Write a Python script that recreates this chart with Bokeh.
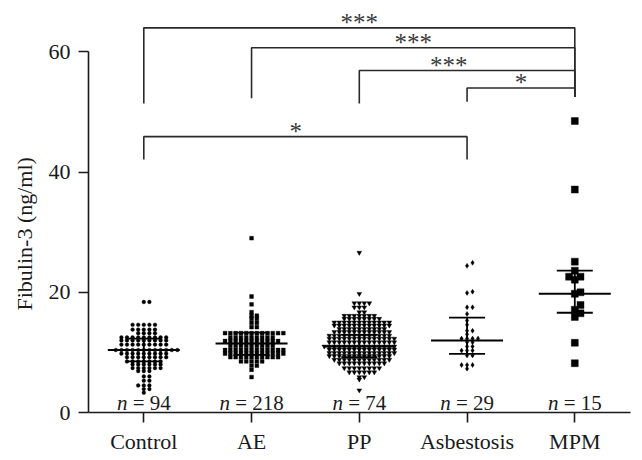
from bokeh.plotting import figure
from bokeh.models import ColumnDataSource, FixedTicker, Range1d, Title
from bokeh.embed import file_html
from bokeh.resources import INLINE
from bokeh.core.properties import value

# ---------------- data ----------------
categories = ["Control", "AE", "PP", "Asbestosis", "MPM"]
n_numbers = ["94", "218", "74", "29", "15"]
y_title = "Fibulin-3 (ng/ml)"

control = [
    18.4, 18.4,
    14.6, 14.6, 14.6, 14.6, 14.6,
    13.8, 13.8, 13.8, 13.8, 13.8,
    13.2, 13.2, 13.2, 13.2,
    12.5, 12.5, 12.5, 12.5, 12.5, 12.5, 12.5, 12.5, 12.5,
    12.0, 12.0, 12.0, 12.0, 12.0, 12.0, 12.0, 12.0, 12.0,
    11.3, 11.3, 11.3, 11.3, 11.3, 11.3, 11.3, 11.3, 11.3,
    10.4, 10.4, 10.4, 10.4, 10.4, 10.4, 10.4, 10.4, 10.4, 10.4, 10.4, 10.4,
    9.8, 9.8, 9.8, 9.8, 9.8, 9.8, 9.8, 9.8, 9.8,
    9.2, 9.2, 9.2, 9.2, 9.2, 9.2, 9.2, 9.2,
    8.5, 8.5, 8.5, 8.5, 8.5, 8.5, 8.5,
    8.0, 8.0, 8.0, 8.0, 8.0, 8.0,
    7.4, 7.4, 7.4, 7.4, 7.4, 7.4,
    6.9, 6.9, 6.9,
    6.0, 6.0,
    5.3, 5.3,
    4.5, 4.5, 4.5,
    3.9, 3.9,
    3.3,
]

ae = [
    29.0,
    19.3, 18.0, 16.7,
    16.1, 16.1,
    15.6, 15.6,
    14.9, 14.9,
    14.2, 14.2,
    13.2, 13.2, 13.2, 13.2, 13.2, 13.2, 13.2, 13.2, 13.2, 13.2, 13.2, 13.2,
    12.5, 12.5, 12.5, 12.5, 12.5, 12.5, 12.5, 12.5, 12.5,
    11.9, 11.9, 11.9, 11.9, 11.9, 11.9, 11.9, 11.9, 11.9, 11.9, 11.9,
    11.1, 11.1, 11.1, 11.1, 11.1, 11.1, 11.1, 11.1, 11.1,
    10.4, 10.4, 10.4, 10.4, 10.4, 10.4, 10.4, 10.4, 10.4, 10.4, 10.4, 10.4,
    9.8, 9.8, 9.8, 9.8, 9.8, 9.8, 9.8, 9.8, 9.8, 9.8, 9.8, 9.8,
    9.2, 9.2, 9.2, 9.2, 9.2, 9.2, 9.2, 9.2, 9.2, 9.2,
    8.5, 8.5, 8.5, 8.5, 8.5,
    7.8, 7.8,
    7.1,
    5.9,
]

pp = [
    26.6,
    19.75,
    18.2, 18.2, 18.2, 18.2,
    17.5, 17.5, 17.5,
    16.7, 16.7,
    16.1, 16.1, 16.1, 16.1, 16.1, 16.1, 16.1,
    15.6, 15.6, 15.6, 15.6, 15.6, 15.6, 15.6, 15.6,
    15.0, 15.0, 15.0, 15.0, 15.0, 15.0, 15.0, 15.0, 15.0, 15.0, 15.0, 15.0,
    14.5, 14.5, 14.5, 14.5, 14.5, 14.5, 14.5, 14.5, 14.5, 14.5, 14.5, 14.5,
    13.9, 13.9, 13.9, 13.9, 13.9, 13.9, 13.9, 13.9, 13.9, 13.9,
    13.4, 13.4, 13.4, 13.4, 13.4, 13.4, 13.4, 13.4, 13.4, 13.4, 13.4, 13.4,
    12.8, 12.8, 12.8, 12.8, 12.8, 12.8, 12.8, 12.8, 12.8, 12.8, 12.8, 12.8, 12.8,
    12.3, 12.3, 12.3, 12.3, 12.3, 12.3, 12.3, 12.3, 12.3, 12.3, 12.3, 12.3, 12.3, 12.3,
    11.7, 11.7, 11.7, 11.7, 11.7, 11.7, 11.7, 11.7, 11.7, 11.7, 11.7, 11.7, 11.7, 11.7,
    11.0, 11.0, 11.0, 11.0, 11.0, 11.0, 11.0, 11.0, 11.0, 11.0, 11.0, 11.0, 11.0, 11.0, 11.0,
    10.5, 10.5, 10.5, 10.5, 10.5, 10.5, 10.5, 10.5, 10.5, 10.5, 10.5, 10.5, 10.5, 10.5,
    9.9, 9.9, 9.9, 9.9, 9.9, 9.9, 9.9, 9.9, 9.9, 9.9, 9.9, 9.9, 9.9, 9.9,
    9.4, 9.4, 9.4, 9.4, 9.4, 9.4, 9.4, 9.4, 9.4, 9.4, 9.4, 9.4, 9.4,
    8.8, 8.8, 8.8, 8.8, 8.8, 8.8, 8.8, 8.8, 8.8, 8.8, 8.8, 8.8,
    8.2, 8.2, 8.2, 8.2, 8.2, 8.2, 8.2, 8.2, 8.2, 8.2,
    7.4, 7.4, 7.4, 7.4, 7.4, 7.4, 7.4, 7.4,
    6.7, 6.7, 6.7, 6.7, 6.7, 6.7,
    5.9, 5.9,
    5.5,
    3.7,
]

asbestosis = [
    24.9, 24.4,
    20.1, 19.9,
    17.5, 17.5,
    16.4,
    15.3,
    14.6,
    13.6, 13.6,
    13.0,
    12.3, 12.3, 12.3, 12.3,
    11.7, 11.7,
    11.0, 11.0,
    10.3, 10.3, 10.3,
    9.5, 9.5,
    7.9, 7.9, 7.9,
    7.3,
]

mpm = [48.5, 37.1, 25.1, 23.6, 22.6, 22.6, 22.1, 20.0, 19.75,
       17.9, 17.1, 16.5, 15.9, 11.6, 8.2]

medians = [10.4, 11.5, 11.0, 12.0, 19.75]
q1 = [8.5, 9.6, 9.2, 9.75, 16.6]
q3 = [12.3, 13.3, 12.9, 15.8, 23.6]

# significance brackets
cmp_a = [1, 2, 3, 4, 1]
cmp_b = [5, 5, 5, 5, 4]
cmp_top = [64.0, 60.7, 56.9, 54.0, 45.9]
cmp_drop_a = [51.4, 52.3, 51.4, 51.7, 42.1]
cmp_drop_b = [52.5, 52.5, 52.5, 52.5, 42.1]
cmp_stars = ["***", "***", "***", "*", "*"]
cmp_star_x = [3.0, 3.5, 3.83, 4.5, 2.41]

# ---------------- layout ----------------
W, H = 642, 458
BL, BR, BT, BB = 88, 1, 10, 46
X0, X1 = 0.4868, 5.619
Y0, Y1 = 0.0, 66.89
frame_w = W - BL - BR
frame_h = H - BT - BB
xpu = frame_w / (X1 - X0)   # px per x unit
ypu = frame_h / (Y1 - Y0)   # px per y unit

FONT = value("Liberation Serif")
INK = "#1a1a1a"


def swarm_offsets(vals, bin_px, step_px):
    order = sorted(range(len(vals)), key=lambda i: vals[i])
    bins, cur, start = [], [], None
    for i in order:
        v = vals[i]
        if start is None or (v - start) * ypu >= bin_px:
            if cur:
                bins.append(cur)
            cur, start = [i], v
        else:
            cur.append(i)
    if cur:
        bins.append(cur)
    offs = [0.0] * len(vals)
    for b in bins:
        for k, i in enumerate(b):
            m = (k + 1) // 2
            sign = 1 if k % 2 == 1 else -1
            offs[i] = sign * m * step_px / xpu
    return offs


p = figure(width=W, height=H, output_backend="svg", toolbar_location=None,
           x_range=Range1d(X0, X1), y_range=Range1d(Y0, Y1),
           min_border_left=BL, min_border_right=BR,
           min_border_top=BT, min_border_bottom=BB)
p.outline_line_color = None
p.grid.visible = False
p.background_fill_color = "white"
p.border_fill_color = "white"

groups = [
    (control, "circle", 3.7, 2.0, 5.6),
    (ae, "square", 3.8, 2.0, 5.3),
    (pp, "inverted_triangle", 4.8, 2.0, 5.0),
    (asbestosis, "diamond", 5.0, 3.5, 5.5),
    (mpm, "square", 7.0, 7.0, 5.7),
]
for gi, (vals, marker, size, bin_px, step_px) in enumerate(groups):
    offs = swarm_offsets(vals, bin_px, step_px)
    src = ColumnDataSource(dict(x=[gi + 1 + o for o in offs], y=vals))
    p.scatter("x", "y", source=src, marker=marker, size=size,
              fill_color="black", line_color="black", line_width=0.4)

# median and interquartile lines
cx = list(range(1, len(categories) + 1))
med_half = 0.334
iqr_half = 0.167
p.segment(x0=[c - med_half for c in cx], x1=[c + med_half for c in cx],
          y0=medians, y1=medians, line_color="black", line_width=2)
p.segment(x0=[c - iqr_half for c in cx], x1=[c + iqr_half for c in cx],
          y0=q1, y1=q1, line_color="black", line_width=1.8)
p.segment(x0=[c - iqr_half for c in cx], x1=[c + iqr_half for c in cx],
          y0=q3, y1=q3, line_color="black", line_width=1.8)
p.segment(x0=cx, x1=cx, y0=q1, y1=q3, line_color="black", line_width=1.8)

# brackets
xs = [[a, a, b, b] for a, b in zip(cmp_a, cmp_b)]
ys = [[da, t, t, db] for da, t, db in zip(cmp_drop_a, cmp_top, cmp_drop_b)]
p.multi_line(xs, ys, line_color="#2a2a2a", line_width=1.6)
p.text(x=cmp_star_x, y=cmp_top, text=cmp_stars, text_font=FONT,
       text_font_size="25px", text_align="center", text_baseline="alphabetic",
       text_color="#3a3a3a", y_offset=-5)

# n = ... labels (italic n, upright rest)
FS = 21
W_N = 0.5 * FS
GAP = 0.25 * FS
def w_rest(s):
    return (0.564 + 0.25 + 0.5 * len(s)) * FS
n_off = []
rest_off = []
for s in n_numbers:
    total = W_N + GAP + w_rest(s)
    n_off.append(-total / 2 + W_N)
    rest_off.append(-total / 2 + W_N + GAP)
n_y = [1.58] * len(cx)
p.text(x=cx, y=n_y, text=["n"] * len(cx), x_offset=n_off, text_font=FONT,
       text_font_size=f"{FS}px", text_font_style="italic", text_align="right",
       text_baseline="alphabetic", text_color=INK)
p.text(x=cx, y=n_y, text=["= " + s for s in n_numbers], x_offset=rest_off,
       text_font=FONT, text_font_size=f"{FS}px", text_align="left",
       text_baseline="alphabetic", text_color=INK)

# axes
yax = p.yaxis[0]
yax.bounds = (0, 60)
yax.ticker = FixedTicker(ticks=[0, 20, 40, 60])
yax.major_tick_in = 0
yax.major_tick_out = 10
yax.minor_tick_line_color = None
yax.axis_line_width = 1.6
yax.major_tick_line_width = 1.6
yax.axis_line_color = INK
yax.major_tick_line_color = INK
yax.major_label_text_font = "Liberation Serif"
yax.major_label_text_font_size = "22px"
yax.major_label_text_color = INK
yax.major_label_standoff = 8

# y-axis title as a side title so it can be shifted along the axis
p.add_layout(Title(text=y_title, align="left", offset=102, standoff=17,
                   text_font="Liberation Serif", text_font_size="22px",
                   text_font_style="normal", text_color=INK), "left")

xax = p.xaxis[0]
xax.bounds = (0.394, 5.517)
xax.ticker = FixedTicker(ticks=cx)
xax.major_label_overrides = {c: name for c, name in zip(cx, categories)}
xax.major_tick_in = 0
xax.major_tick_out = 10
xax.minor_tick_line_color = None
xax.axis_line_width = 1.6
xax.major_tick_line_width = 1.6
xax.axis_line_color = INK
xax.major_tick_line_color = INK
xax.major_label_text_font = "Liberation Serif"
xax.major_label_text_font_size = "22px"
xax.major_label_text_color = INK
xax.major_label_standoff = 6

open("out.html", "w").write(file_html(p, INLINE))
